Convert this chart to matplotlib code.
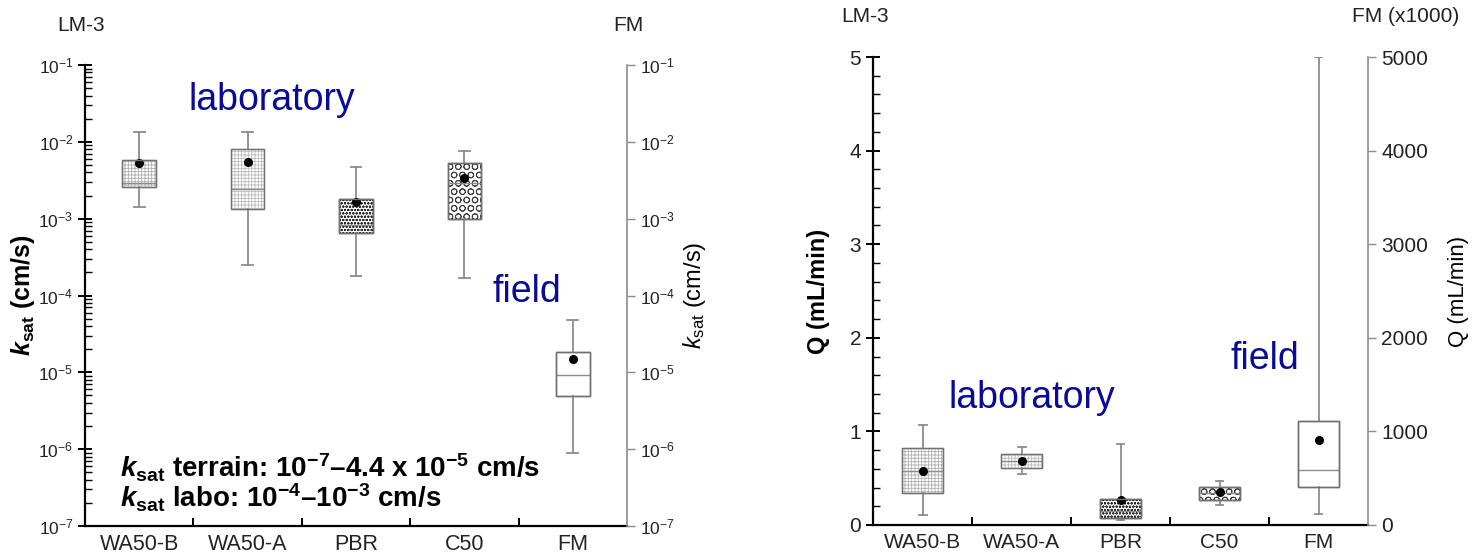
import numpy as np
import matplotlib.pyplot as plt
from matplotlib.ticker import LogFormatterMathtext, MultipleLocator, FixedLocator, NullFormatter

# %% style ---------------------------------------------------------------------
plt.rcParams['font.family'] = ['Liberation Sans', 'DejaVu Sans']
plt.rcParams['mathtext.fontset'] = 'custom'
plt.rcParams['mathtext.rm'] = 'Liberation Sans'
plt.rcParams['mathtext.it'] = 'Liberation Sans:italic'
plt.rcParams['mathtext.bf'] = 'Liberation Sans:bold'
plt.rcParams['mathtext.bfit'] = 'Liberation Sans:bold:italic'
plt.rcParams['hatch.linewidth'] = 0.6

# %% data ----------------------------------------------------------------------
categories = ['WA50-B', 'WA50-A', 'PBR', 'C50', 'FM']

# saturated hydraulic conductivity (cm/s)
ksat_whislo = [1.4e-3, 2.5e-4, 1.8e-4, 1.7e-4, 8.9e-7]
ksat_q1 = [2.6e-3, 1.34e-3, 6.6e-4, 9.8e-4, 4.9e-6]
ksat_med = [2.9e-3, 2.4e-3, 8.2e-4, 2.9e-3, 9.3e-6]
ksat_q3 = [5.8e-3, 8.1e-3, 1.8e-3, 5.3e-3, 1.85e-5]
ksat_whishi = [1.35e-2, 1.35e-2, 4.7e-3, 7.6e-3, 4.8e-5]
ksat_mean = [5.3e-3, 5.5e-3, 1.65e-3, 3.4e-3, 1.48e-5]

# flow rate Q (mL/min), FM in the right axis units (x1000)
q_whislo = [0.11, 0.54, 0.05, 0.21, 120]
q_q1 = [0.34, 0.61, 0.08, 0.27, 410]
q_med = [0.58, 0.68, 0.15, 0.34, 590]
q_q3 = [0.82, 0.76, 0.28, 0.41, 1110]
q_whishi = [1.07, 0.83, 0.87, 0.47, 5000]
q_mean = [0.58, 0.68, 0.27, 0.35, 910]

ksat_decades = [1e-7, 1e-6, 1e-5, 1e-4, 1e-3, 1e-2, 1e-1]

hatches = ['+++++', '+++++', 'ooooo', 'OO', '']
hatch_colors = ['#b0b0b0', '#bcbcbc', '#2a2a2a', '#3c3c3c', '#606060']

blue = '#0a0a96'
grey = '#8c8c8c'
dark = '#222222'


def stats(lo, q1, med, q3, hi, mean):
    return [dict(whislo=a, q1=b, med=c, q3=d, whishi=e, mean=f, fliers=[])
            for a, b, c, d, e, f in zip(lo, q1, med, q3, hi, mean)]


def draw(ax, st, pos, width, capw, idx):
    res = ax.bxp(st, positions=pos, widths=width, patch_artist=True,
                 showmeans=True, capwidths=capw, manage_ticks=False,
                 medianprops=dict(color=grey, lw=1.0),
                 whiskerprops=dict(color=grey, lw=1.3),
                 capprops=dict(color=grey, lw=1.3),
                 meanprops=dict(marker='o', markerfacecolor='black',
                                markeredgecolor='black', markersize=5.5))
    for box, i in zip(res['boxes'], idx):
        box.set_facecolor('white')
        box.set_hatch(hatches[i])
        box.set_edgecolor(hatch_colors[i])
        box.set_linewidth(1.0)
        # outline on top of the hatch
        ax.add_patch(plt.Polygon(box.get_path().vertices, closed=True,
                                 fill=False, edgecolor='#707070', lw=1.0,
                                 zorder=box.get_zorder() + 0.1))


def style_left(ax, ysize, xsize):
    ax.spines['top'].set_visible(False)
    ax.spines['right'].set_visible(False)
    ax.spines['left'].set_linewidth(1.6)
    ax.spines['bottom'].set_linewidth(1.6)
    ax.set_xlim(0.5, 5.5)
    ax.set_xticks(range(1, 6))
    ax.set_xticklabels(categories, fontsize=xsize, color=dark)
    ax.tick_params(axis='x', which='major', length=0, pad=6)
    ax.xaxis.set_minor_locator(FixedLocator([1.5, 2.5, 3.5, 4.5]))
    ax.xaxis.set_minor_formatter(NullFormatter())
    ax.tick_params(axis='x', which='minor', direction='in', length=6, width=1.4)
    ax.tick_params(axis='y', which='major', direction='inout', length=10,
                   width=1.4, labelsize=ysize, labelcolor=dark)
    ax.tick_params(axis='y', which='minor', direction='in', length=5, width=1.0)


def style_right(ax2, ysize):
    for s in ['top', 'left', 'bottom']:
        ax2.spines[s].set_visible(False)
    ax2.spines['right'].set_color(grey)
    ax2.spines['right'].set_linewidth(1.2)
    ax2.set_xlim(0.5, 5.5)
    ax2.tick_params(axis='y', which='major', direction='out', length=6,
                    width=1.0, color=grey, labelsize=ysize, labelcolor=dark)
    ax2.tick_params(axis='y', which='minor', length=0)


fig = plt.figure(figsize=(14.74, 5.6), dpi=100)

# %% left panel: ksat ----------------------------------------------------------
ax = fig.add_axes([0.0577, 0.0607, 0.3677, 0.8232])
ax2 = ax.twinx()
minor = [m * d for d in ksat_decades[:-1] for m in range(2, 10)]
for a in (ax, ax2):
    a.set_yscale('log')
    a.set_ylim(ksat_decades[0], ksat_decades[-1])
    a.yaxis.set_major_locator(FixedLocator(ksat_decades))
    a.yaxis.set_major_formatter(LogFormatterMathtext())
    a.yaxis.set_minor_formatter(NullFormatter())
ax.yaxis.set_minor_locator(FixedLocator(minor))
ax2.yaxis.set_minor_locator(FixedLocator([]))
style_left(ax, 12.5, 15.5)
style_right(ax2, 12.5)

st = stats(ksat_whislo, ksat_q1, ksat_med, ksat_q3, ksat_whishi, ksat_mean)
draw(ax, st[:4], [1, 2, 3, 4], 0.31, 0.1, [0, 1, 2, 3])
draw(ax2, st[4:], [5], 0.31, 0.1, [4])

ax.set_ylabel(r'$\mathbfit{k}_{\mathbf{sat}}$ (cm/s)', fontsize=18,
              fontweight='bold', labelpad=1)
ax2.set_ylabel(r'$\mathit{k}_{\mathrm{sat}}$ (cm/s)', fontsize=17, labelpad=4)

ax.text(0.19, 0.924, 'laboratory', transform=ax.transAxes, fontsize=27,
        color=blue, va='center', ha='left')
ax.text(0.752, 0.508, 'field', transform=ax.transAxes, fontsize=27,
        color=blue, va='center', ha='left')
ax.text(0.064, 0.127,
        r'$\mathbfit{k}_{\mathbf{sat}}$ terrain: 10$^{\mathbf{-7}}$–4.4 x 10$^{\mathbf{-5}}$ cm/s',
        transform=ax.transAxes, fontsize=20, fontweight='bold', va='center')
ax.text(0.064, 0.062,
        r'$\mathbfit{k}_{\mathbf{sat}}$ labo: 10$^{\mathbf{-4}}$–10$^{\mathbf{-3}}$ cm/s',
        transform=ax.transAxes, fontsize=20, fontweight='bold', va='center')

fig.text(0.039, 0.955, 'LM-3', fontsize=15, color=dark, va='center')
fig.text(0.416, 0.955, 'FM', fontsize=15, color=dark, va='center')

# %% right panel: Q --------------------------------------------------------------
bx = fig.add_axes([0.5923, 0.0625, 0.3358, 0.8357])
bx2 = bx.twinx()
bx.set_ylim(0, 5)
bx2.set_ylim(0, 5000)
bx.yaxis.set_major_locator(MultipleLocator(1))
bx.yaxis.set_minor_locator(MultipleLocator(0.2))
bx2.yaxis.set_major_locator(MultipleLocator(1000))
style_left(bx, 15, 15)
style_right(bx2, 15)

sq = stats(q_whislo, q_q1, q_med, q_q3, q_whishi, q_mean)
draw(bx, sq[:4], [1, 2, 3, 4], 0.41, 0.08, [0, 1, 2, 3])
draw(bx2, sq[4:], [5], 0.41, 0.08, [4])

bx.set_ylabel('Q (mL/min)', fontsize=17, fontweight='bold', labelpad=14)
bx2.set_ylabel('Q (mL/min)', fontsize=16, labelpad=14)

bx.text(0.152, 0.272, 'laboratory', transform=bx.transAxes, fontsize=27,
        color=blue, va='center', ha='left')
bx.text(0.722, 0.355, 'field', transform=bx.transAxes, fontsize=27,
        color=blue, va='center', ha='left')

fig.text(0.571, 0.97, 'LM-3', fontsize=15, color=dark, va='center')
fig.text(0.917, 0.97, 'FM (x1000)', fontsize=15, color=dark, va='center')

fig.savefig('out.png', dpi=100)
